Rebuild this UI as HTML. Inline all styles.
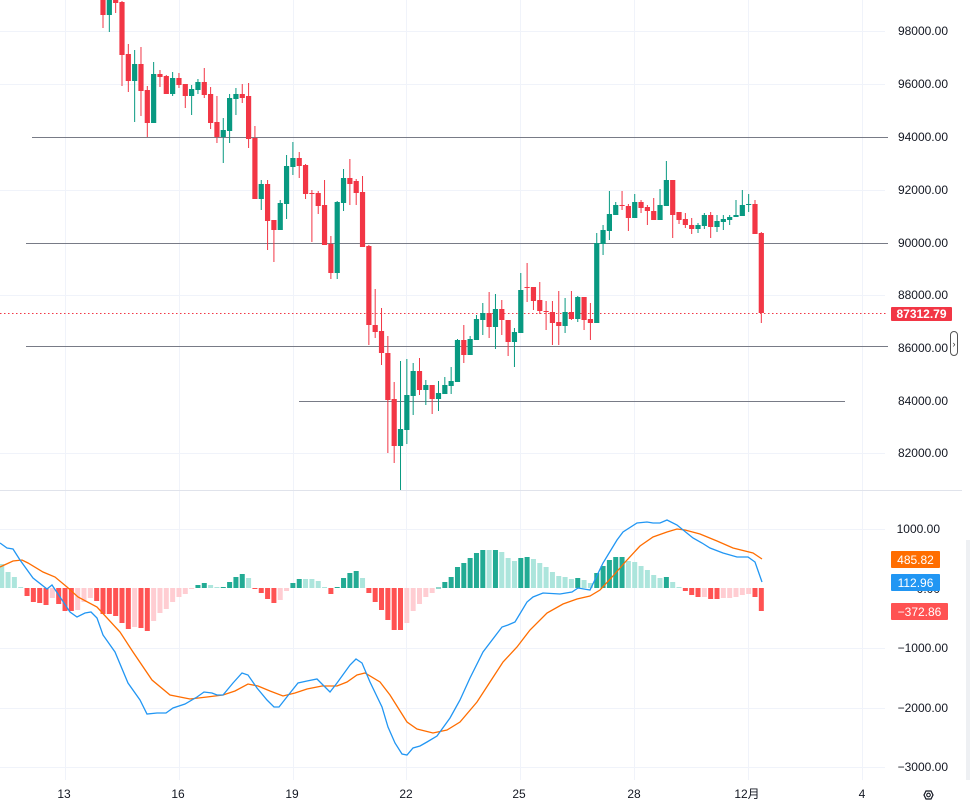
<!DOCTYPE html>
<html><head><meta charset="utf-8"><style>
html,body{margin:0;padding:0;background:#fff;}
svg{display:block;font-family:"Liberation Sans","Noto Sans CJK SC",sans-serif;}
</style></head><body>
<svg id="s" width="970" height="806" viewBox="0 0 970 806" xmlns="http://www.w3.org/2000/svg">
<rect width="970" height="806" fill="#fff"/>
<g stroke="#f0f3fa" stroke-width="1">
<line x1="0" y1="31.5" x2="885" y2="31.5"/><line x1="0" y1="84.5" x2="885" y2="84.5"/><line x1="0" y1="190.5" x2="885" y2="190.5"/><line x1="0" y1="295.5" x2="885" y2="295.5"/><line x1="0" y1="453.5" x2="885" y2="453.5"/>
<line x1="0" y1="529.5" x2="885" y2="529.5"/><line x1="0" y1="648.5" x2="885" y2="648.5"/><line x1="0" y1="708.5" x2="885" y2="708.5"/><line x1="0" y1="767.5" x2="885" y2="767.5"/>
<line x1="65.5" y1="0" x2="65.5" y2="780"/><line x1="179.5" y1="0" x2="179.5" y2="780"/><line x1="293.5" y1="0" x2="293.5" y2="780"/><line x1="406.5" y1="0" x2="406.5" y2="780"/><line x1="520.5" y1="0" x2="520.5" y2="780"/><line x1="634.5" y1="0" x2="634.5" y2="780"/><line x1="748.5" y1="0" x2="748.5" y2="780"/><line x1="862.5" y1="0" x2="862.5" y2="780"/>
</g>
<line x1="0" y1="490.5" x2="962" y2="490.5" stroke="#e0e3eb"/>
<g stroke="#787b86" stroke-width="1">
<line x1="32" y1="137.5" x2="888" y2="137.5"/>
<line x1="26" y1="243.5" x2="888" y2="243.5"/>
<line x1="26" y1="346.5" x2="888" y2="346.5"/>
<line x1="299" y1="401.5" x2="845" y2="401.5"/>
</g>
<line x1="0" y1="313.5" x2="888" y2="313.5" stroke="#f23645" stroke-dasharray="1.5,2.5"/>
<g id="cand"></g>
<g id="hist"></g>
<polyline fill="none" stroke="#ff6d00" stroke-width="1.3" points="0,567 13,561 22,560 28,563 43,572 55,577 67,587 78,597 97,607 120,632 133,652 152,680 170,695 190,699 207,697 223,695 235,691 248,684 258,686 270,691 283,696 295,693 307,689 322,686 337,686 347,682 357,675 365,673 380,682 390,695 407,722 417,729 433,733 447,730 460,722 477,702 490,682 503,662 517,647 530,630 547,613 563,604 577,599 590,596 600,590 613,576 627,560 640,546 653,537 667,532 677,529 685,530 700,534 717,541 733,548 753,553 762,559"/>
<polyline fill="none" stroke="#2196f3" stroke-width="1.3" points="0,543 7,548 13,549 20,560 33,578 47,589 52,585 60,597 70,612 77,617 85,613 91,612 97,618 103,635 115,652 128,683 140,700 147,714 157,713 166,713 173,708 185,704 197,697 204,692 212,693 217,695 223,695 233,683 242,673 248,675 257,688 267,700 274,707 279,707 290,693 298,683 307,681 317,679 330,692 337,683 350,665 356,659 362,663 370,682 382,707 388,727 395,743 402,754 407,755 413,748 420,746 427,742 437,736 450,718 460,700 470,678 483,652 502,627 508,625 515,622 527,602 533,597 543,593 560,594 572,592 578,588 590,590 603,563 617,540 623,532 637,523 647,522 653,523 660,523 667,520 677,525 693,538 702,543 710,548 723,553 737,557 748,557 755,562 762,582"/>
<g font-size="12" fill="#131722" text-anchor="end">
<text x="948" y="35">98000.00</text><text x="948" y="88">96000.00</text><text x="948" y="141">94000.00</text><text x="948" y="194">92000.00</text><text x="948" y="247">90000.00</text><text x="948" y="299">88000.00</text><text x="948" y="352">86000.00</text><text x="948" y="405">84000.00</text><text x="948" y="457">82000.00</text>
<text x="940" y="533">1000.00</text><text x="940" y="593">0.00</text><text x="948" y="652">−1000.00</text><text x="948" y="712">−2000.00</text><text x="948" y="771">−3000.00</text>
</g>
<rect x="891" y="307" width="61" height="14" rx="1" fill="#f23645"/>
<text x="921.5" y="318" font-size="12" font-weight="bold" fill="#fff" text-anchor="middle">87312.79</text>
<rect x="950.5" y="331.5" width="7" height="24" rx="3.5" fill="#fff" stroke="#555"/>
<text x="954" y="347" font-size="9" fill="#333" text-anchor="middle">›</text>
<rect x="891" y="551" width="49" height="17" rx="1" fill="#ff6d00"/>
<text x="915.5" y="564" font-size="12" fill="#fff" text-anchor="middle">485.82</text>
<rect x="891" y="574" width="49" height="17" rx="1" fill="#2196f3"/>
<text x="915.5" y="587" font-size="12" fill="#fff" text-anchor="middle">112.96</text>
<rect x="891" y="603" width="57" height="17" rx="1" fill="#ff5252"/>
<text x="919.5" y="616" font-size="12" fill="#fff" text-anchor="middle">−372.86</text>
<rect x="966" y="540" width="4" height="240" fill="#eef0f3"/>
<g font-size="12" fill="#131722" text-anchor="middle">
<text x="64" y="798">13</text><text x="178" y="798">16</text><text x="292" y="798">19</text><text x="406" y="798">22</text><text x="519" y="798">25</text><text x="634" y="798">28</text><text x="747" y="798">12月</text><text x="862" y="798">4</text>
</g>
<polygon points="924,795 926,791 931,791 933,795 931,799 926,799" fill="none" stroke="#131722" stroke-width="1.2"/>
<circle cx="928.5" cy="795" r="1.8" fill="none" stroke="#131722" stroke-width="1.1"/>
</svg>
<script>
var C=[[0,15,0,28,'r'],[0,15,0,32,'g'],[0,3,0,13,'r'],[2,55,1,86,'r'],[54,81,44,92,'r'],[64,81,50,122,'g'],[64,91,47,116,'r'],[90,123,86,137,'r'],[74,123,62,123,'g'],[74,77,70,87,'r'],[76,94,75,94,'r'],[78,94,72,96,'g'],[78,85,73,88,'r'],[84,96,84,108,'r'],[89,96,85,115,'g'],[82,90,79,94,'g'],[82,95,68,98,'r'],[94,123,87,129,'r'],[122,137,96,143,'r'],[130,137,118,163,'g'],[98,131,94,143,'g'],[94,99,88,115,'g'],[94,98,84,103,'r'],[96,139,83,148,'r'],[138,199,126,199,'r'],[184,199,180,210,'g'],[184,221,180,250,'r'],[220,230,220,262,'r'],[203,230,200,230,'g'],[166,204,155,219,'g'],[158,167,142,175,'g'],[158,166,152,178,'r'],[165,194,164,199,'r'],[193,194,190,242,'r'],[193,206,191,214,'r'],[205,245,180,245,'r'],[244,273,236,279,'r'],[202,273,201,279,'g'],[178,203,169,211,'g'],[178,184,159,205,'r'],[181,193,179,205,'r'],[192,247,176,247,'r'],[246,325,245,345,'r'],[325,332,289,338,'r'],[331,353,308,365,'r'],[353,400,336,453,'r'],[399,446,382,463,'r'],[429,446,361,490,'g'],[395,430,359,444,'g'],[371,396,363,415,'g'],[371,390,358,395,'r'],[385,390,380,405,'g'],[385,399,385,414,'r'],[393,399,381,411,'g'],[385,394,377,394,'g'],[381,386,367,394,'g'],[340,382,339,382,'g'],[340,355,325,363,'r'],[339,355,336,355,'g'],[319,340,315,340,'g'],[313,320,303,335,'g'],[313,327,292,338,'r'],[309,327,294,349,'g'],[309,320,300,335,'r'],[320,342,320,356,'r'],[332,342,328,367,'g'],[290,333,273,333,'g'],[287,288,263,302,'r'],[287,301,287,310,'r'],[300,311,282,314,'r'],[311,312,301,330,'r'],[312,323,301,345,'r'],[322,326,291,345,'r'],[312,326,298,333,'g'],[312,319,291,320,'r'],[297,319,296,322,'g'],[297,320,297,330,'r'],[319,323,303,340,'r'],[243,323,233,323,'g'],[230,244,225,255,'g'],[214,231,191,240,'g'],[205,215,202,215,'g'],[205,206,191,210,'r'],[206,218,204,231,'r'],[202,218,194,218,'g'],[202,208,200,213,'r'],[207,211,205,225,'r'],[211,220,198,220,'r'],[205,220,189,220,'g'],[180,206,161,206,'g'],[180,215,180,238,'r'],[212,220,212,224,'r'],[219,225,213,228,'r'],[225,229,218,234,'r'],[225,229,223,233,'g'],[215,226,213,229,'g'],[215,227,212,238,'r'],[221,227,215,232,'g'],[219,222,215,230,'g'],[217,220,215,225,'g'],[215,217,200,217,'g'],[205,216,190,216,'g'],[204,205,194,212,'g'],[204,234,200,234,'r'],[233,313,232,323,'r']];
var H=[24,16,11,1,-8,-14,-15,-17,-10,-16,-23,-23,-22,-14,-10,-13,-26,-26,-28,-35,-41,-39,-40,-43,-33,-25,-21,-14,-9,-6,-1,3,5,3,1,1,6,11,14,10,-1,-5,-11,-15,-12,-3,5,9,9,9,7,1,-6,1,10,15,17,10,-5,-14,-22,-32,-42,-42,-35,-23,-16,-9,-5,0.5,6,11,21,25,30,35,38,38,38,36,30,27,30,31,29,25,21,16,12,11,9,10,8,5,15,22,28,31,31,27,26,22,18,13,10,11,6,1,-3,-7,-9,-9,-11,-11,-10,-10,-9,-7,-6,-9,-23];
var HC="LLLLRRRRPRRRPPPR"+"RRRRRPRRPP"+"PPPPPGGLLG"+"GGGLRRRRPP"+"GGLLLLRGGG"+"GLRRRRRRPP"+"PPPGGGGGGG"+"GLGLLLGGLL"+"LLLLLGLLGG"+"GGGLLLLLLG"+"LLRRRPRRPP"+"PPPRR";
var col={r:'#f23645',g:'#089981',G:'#22ab94',L:'#ace5dc',R:'#ff5252',P:'#ffcdd2'};
var s='';
for(var i=0;i<C.length;i++){var c=C[i],x=103+6.33*i,f=col[c[4]];
s+='<line x1="'+x+'" y1="'+c[2]+'" x2="'+x+'" y2="'+c[3]+'" stroke="'+f+'" stroke-width="1"/>';
s+='<rect x="'+(x-2.6)+'" y="'+c[0]+'" width="5.2" height="'+Math.max(1,c[1]-c[0])+'" fill="'+f+'"/>';}
document.getElementById('cand').innerHTML=s;
s='';
for(var k=0;k<H.length;k++){var x=103+6.33*(k-16),v=H[k],f=col[HC[k]];
var y=v>0?588-v:588,h=Math.max(1,Math.abs(v));
s+='<rect x="'+(x-2.5)+'" y="'+y+'" width="5" height="'+h+'" fill="'+f+'"/>';}
document.getElementById('hist').innerHTML=s;
</script>
</body></html>
